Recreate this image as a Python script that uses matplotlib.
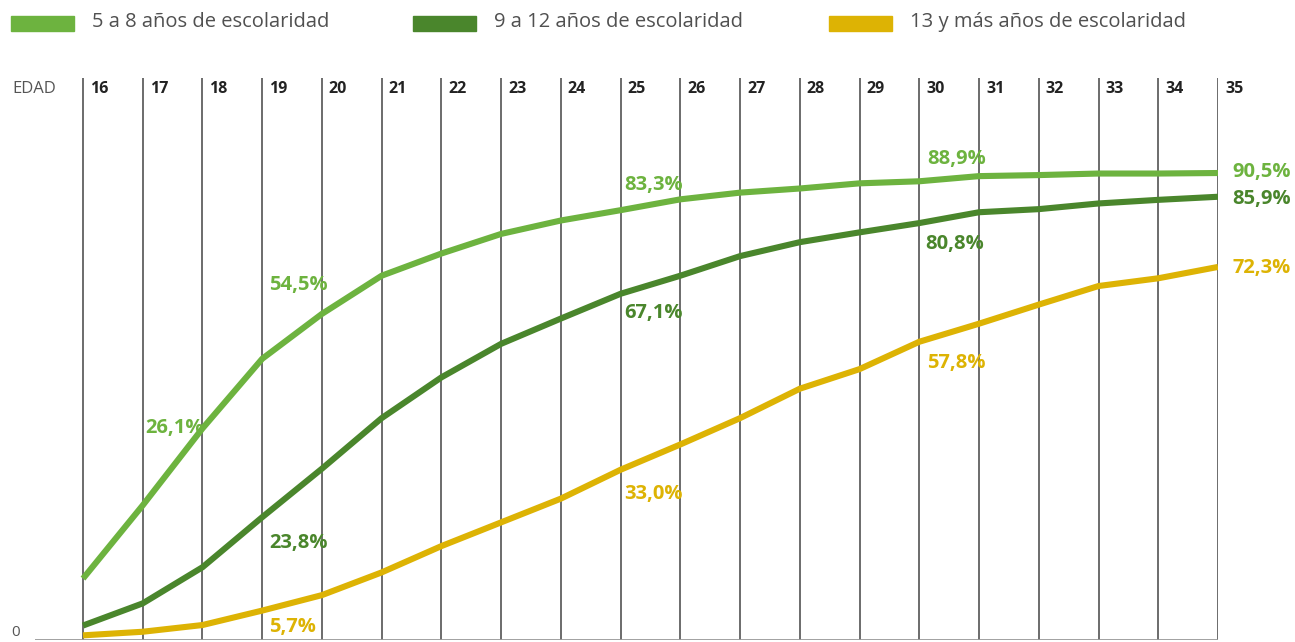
import matplotlib
matplotlib.use("Agg")
import matplotlib.pyplot as plt
from matplotlib.patches import Rectangle
import matplotlib.transforms as mtransforms

# Ages shown along the top of the chart
ages = list(range(16, 36))

# Share of people (%) by age, per schooling group
series_names = ["5 a 8 años de escolaridad",
                "9 a 12 años de escolaridad",
                "13 y más años de escolaridad"]
low_school = [11.9, 26.1, 41.0, 54.5, 63.2, 70.6, 74.9, 78.7, 81.3, 83.3,
              85.4, 86.7, 87.5, 88.5, 88.9, 89.9, 90.1, 90.4, 90.4, 90.5]
mid_school = [2.8, 7.1, 14.1, 23.8, 33.2, 43.0, 50.9, 57.4, 62.3, 67.1,
              70.6, 74.4, 77.1, 79.0, 80.8, 82.9, 83.5, 84.6, 85.3, 85.9]
high_school = [0.9, 1.6, 2.9, 5.7, 8.7, 13.1, 18.2, 22.8, 27.4, 33.0,
               37.9, 43.0, 48.7, 52.5, 57.8, 61.3, 65.0, 68.6, 70.1, 72.3]
all_series = [low_school, mid_school, high_school]

colors = ["#6db33f", "#4a862c", "#ddb304"]

# Labelled points: (series index, age, x offset px, y offset px)
callouts = [
    (0, 17, 3, 77), (0, 19, 7, 74), (0, 25, 4, 25), (0, 30, 8, 22), (0, 35, 14, 1),
    (1, 19, 7, -26), (1, 25, 4, -19), (1, 30, 6, -21), (1, 35, 14, -2),
    (2, 19, 7, -16), (2, 25, 4, -24), (2, 30, 8, -21), (2, 35, 14, -1),
]

W, H = 1295, 642
fig = plt.figure(figsize=(W / 100, H / 100), dpi=100)
fig.patch.set_facecolor("white")

ax_left, ax_right, ax_top, ax_bottom = 35, 1218, 78, 640
ax = fig.add_axes([ax_left / W, (H - ax_bottom) / H,
                   (ax_right - ax_left) / W, (ax_bottom - ax_top) / H])
px_per_year = (ax_right - 83) / (35 - 16)
ax.set_xlim(16 - (83 - ax_left) / px_per_year, 35)
ax.set_ylim(0, (ax_bottom - ax_top) / 5.16)
ax.axis("off")

# Vertical guide for every age, plus the age number beside it
label_tf = mtransforms.blended_transform_factory(ax.transData, ax.transAxes)
for a in ages:
    ax.axvline(a, color="#444444", lw=1.1, zorder=1)
    ax.annotate(str(a), xy=(a, (ax_bottom - 89) / (ax_bottom - ax_top)),
                xycoords=label_tf, xytext=(5, 0), textcoords="offset points",
                ha="left", va="center", fontsize=11.5, fontweight="bold",
                family="Open Sans", color="#222222")

# Baseline
ax.axhline(0, color="#9a9a9a", lw=1.3, zorder=1)

# Series lines
for vals, c in zip(all_series, colors):
    ax.plot(ages, vals, color=c, lw=4.4, solid_capstyle="butt",
            solid_joinstyle="miter", zorder=3)

# Value labels
for si, age, dx, dy in callouts:
    v = all_series[si][ages.index(age)]
    txt = f"{v:.1f}".replace(".", ",") + "%"
    ax.annotate(txt, xy=(age, v), xytext=(dx * 0.72, dy * 0.72),
                textcoords="offset points", ha="left", va="center",
                fontsize=14.5, fontweight="bold", family="Open Sans",
                color=colors[si], annotation_clip=False, zorder=4)

# Axis captions
fig.text(12 / W, (H - 89) / H, "EDAD", ha="left", va="center",
         fontsize=12, fontweight="normal", family="Open Sans", color="#555555")
fig.text(11 / W, (H - 633) / H, "0", ha="left", va="center",
         fontsize=11, fontweight="normal", family="Open Sans", color="#555555")

# Legend across the top
legend_x = [(11, 92), (413, 494), (829, 910)]
for (rx, tx), name, c in zip(legend_x, series_names, colors):
    fig.patches.append(Rectangle((rx / W, (H - 31) / H), 63 / W, 15 / H,
                                 transform=fig.transFigure, color=c))
    fig.text(tx / W, (H - 22) / H, name, ha="left", va="center",
             fontsize=14.5, fontweight="normal", family="Open Sans",
             color="#505050")

fig.savefig("out.png", dpi=100, facecolor="white")
